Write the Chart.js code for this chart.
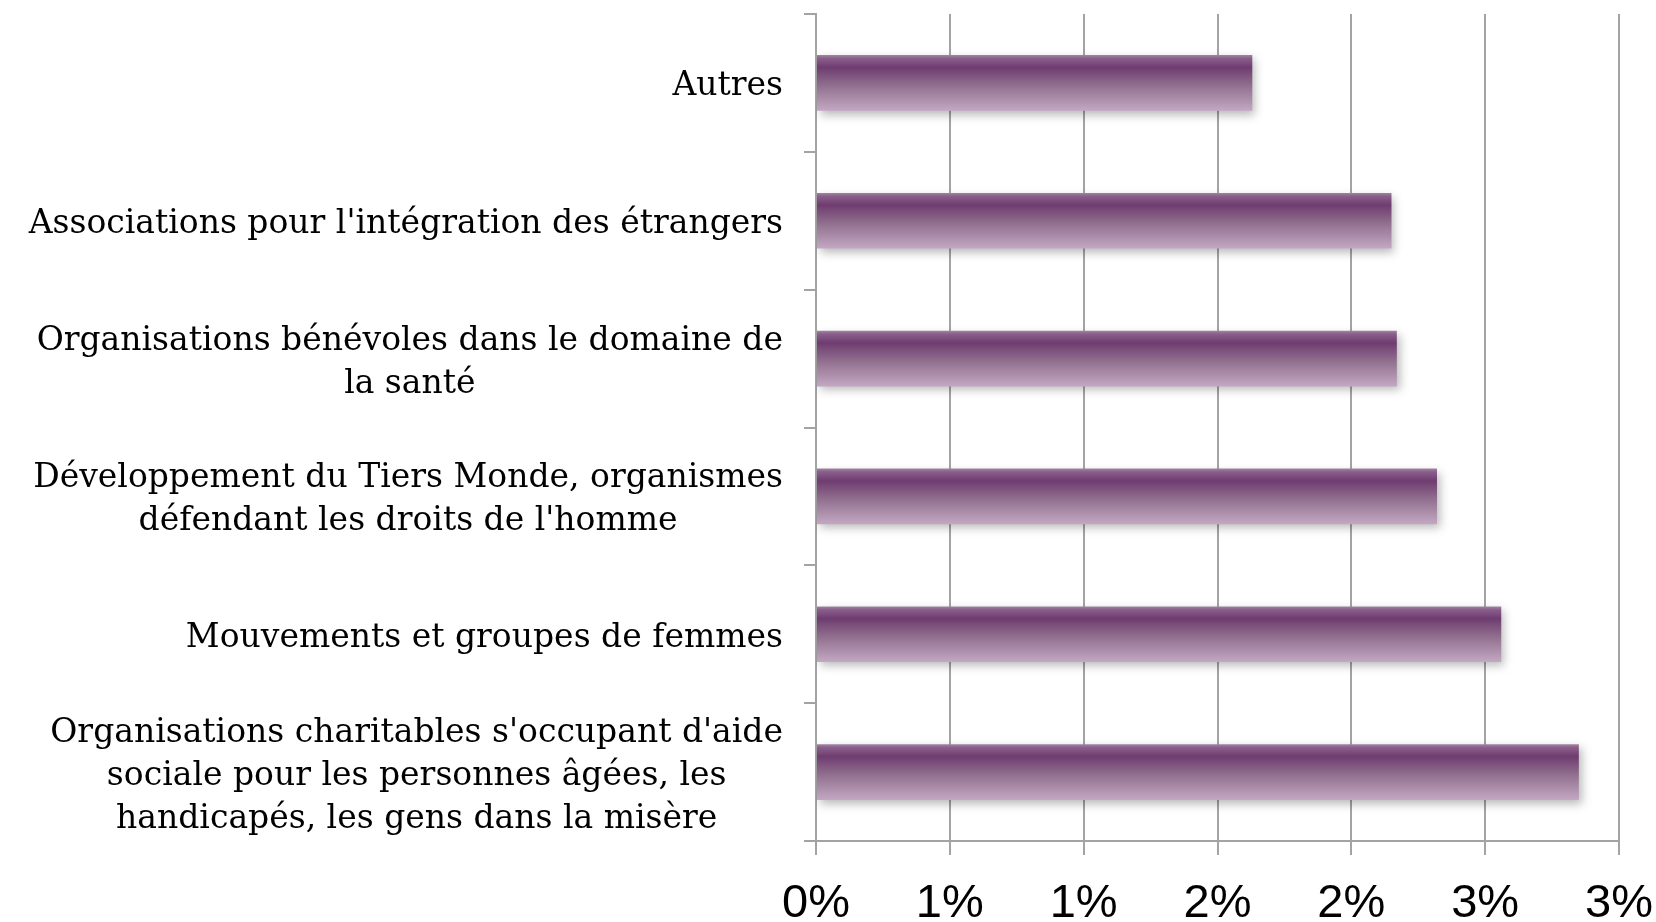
<!DOCTYPE html>
<html>
<head>
<meta charset="utf-8">
<script src="https://cdn.jsdelivr.net/npm/chart.js@4.4.0/dist/chart.umd.min.js"></script>
<style>
  html, body { margin: 0; padding: 0; background: #fff; }
  #wrap { width: 1656px; height: 922px; }
</style>
</head>
<body>
<div id="wrap"><canvas id="myChart" width="1656" height="922"></canvas></div>
<script>
// categories, top to bottom
var categories = [
    ["Autres"],
    ["Associations pour l'intégration des étrangers"],
    ["Organisations bénévoles dans le domaine de", "la santé"],
    ["Développement du Tiers Monde, organismes", "défendant les droits de l'homme"],
    ["Mouvements et groupes de femmes"],
    ["Organisations charitables s'occupant d'aide", "sociale pour les personnes âgées, les", "handicapés, les gens dans la misère"]
];
// percent values
var values = [1.63, 2.15, 2.17, 2.32, 2.56, 2.85];
// x axis tick labels (the original rounds 0.5 steps to whole percents)
var xTickLabels = ['0%', '1%', '1%', '2%', '2%', '3%', '3%'];

var GRID = '#a3a3a3';
var BAR_PCT = 0.404;

function barGradient(context) {
    var chart = context.chart;
    var yScale = chart.scales.y;
    if (!yScale || !chart.chartArea) return '#7a4a7a';
    var band = (yScale.bottom - yScale.top) / categories.length;
    var cy = yScale.getPixelForValue(context.dataIndex);
    var h = band * BAR_PCT / 2;
    var g = chart.ctx.createLinearGradient(0, cy - h, 0, cy + h);
    g.addColorStop(0, '#a184a2');
    g.addColorStop(0.06, '#8a5e8b');
    g.addColorStop(0.22, '#6f3c70');
    g.addColorStop(0.55, '#91708f');
    g.addColorStop(1, '#c3a8c3');
    return g;
}

// soft drop shadow under the bars
var shadowPlugin = {
    id: 'barShadow',
    beforeDatasetsDraw: function (chart) {
        var c = chart.ctx;
        c.save();
        c.shadowColor = 'rgba(0,0,0,0.28)';
        c.shadowBlur = 9;
        c.shadowOffsetX = 3;
        c.shadowOffsetY = 4;
    },
    afterDatasetsDraw: function (chart) {
        chart.ctx.restore();
    }
};

// y labels: block right aligned, lines centred inside the block
var yLabelPlugin = {
    id: 'yLabels',
    afterDraw: function (chart) {
        var c = chart.ctx;
        var yScale = chart.scales.y;
        var right = 783, lineH = 43;
        c.save();
        c.font = '33px "DejaVu Serif", serif';
        c.fillStyle = '#000';
        c.textAlign = 'center';
        c.textBaseline = 'middle';
        categories.forEach(function (lines, i) {
            var cy = yScale.getPixelForTick(i);
            var w = 0;
            lines.forEach(function (l) { w = Math.max(w, c.measureText(l).width); });
            var cx = right - w / 2;
            var y0 = cy - (lines.length - 1) * lineH / 2;
            lines.forEach(function (l, k) {
                c.fillText(l, cx, y0 + k * lineH + 4);
            });
        });
        c.restore();
    }
};

var ctx = document.getElementById('myChart').getContext('2d');
var myChart = new Chart(ctx, {
    type: 'bar',
    data: {
        labels: categories.map(function (l) { return l.join(' '); }),
        datasets: [{
            data: values,
            backgroundColor: barGradient,
            borderWidth: 0,
            barPercentage: BAR_PCT,
            categoryPercentage: 1.0
        }]
    },
    options: {
        indexAxis: 'y',
        responsive: false,
        animation: false,
        layout: { padding: { top: 14, right: 0, left: 0, bottom: 0 } },
        plugins: {
            legend: { display: false },
            tooltip: { enabled: false }
        },
        scales: {
            x: {
                min: 0,
                max: 3,
                ticks: {
                    stepSize: 0.5,
                    padding: 21,
                    color: '#000',
                    font: { family: '"Liberation Sans", Arial, sans-serif', size: 47 },
                    callback: function (v, i) { return xTickLabels[i]; }
                },
                grid: { color: GRID, lineWidth: 2, tickLength: 14 },
                border: { color: GRID, width: 2 },
                afterFit: function (s) {
                    s.height = 81;
                    s.paddingRight = 37;
                    s.paddingLeft = 0;
                }
            },
            y: {
                ticks: {
                    color: 'transparent',
                    callback: function () { return ''; }
                },
                grid: { color: GRID, lineWidth: 2, tickLength: 12, drawOnChartArea: false, offset: true },
                border: { color: GRID, width: 2 },
                afterFit: function (s) { s.width = 816; }
            }
        }
    },
    plugins: [shadowPlugin, yLabelPlugin]
});
</script>
</body>
</html>
